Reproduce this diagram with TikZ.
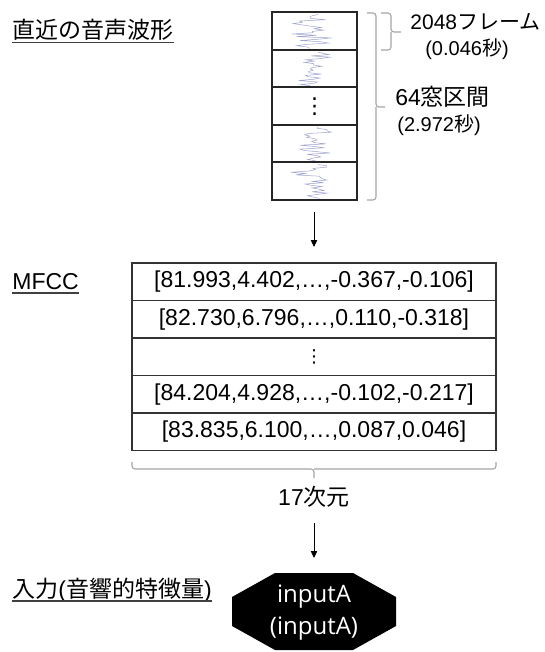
\documentclass[tikz,border=0pt]{standalone}
\usepackage{fontspec}
\setmainfont{Liberation Sans}
\newfontfamily\jp{Noto Sans CJK JP}
\newfontfamily\symf{DejaVu Sans}
\newfontfamily\octf{Open Sans}
\usetikzlibrary{arrows.meta}
\definecolor{bracegray}{RGB}{165,165,165}
\definecolor{wavecol}{RGB}{60,70,160}
\begin{document}
\begin{tikzpicture}[x=0.5pt,y=-0.5pt,
  lbl/.style={inner sep=0pt, font=\fontsize{11.5}{13}\selectfont},
  smalllbl/.style={inner sep=0pt, font=\fontsize{10}{12}\selectfont},
  wcell/.style={draw=black!85, line width=1pt, minimum width=42.5pt, minimum height=18.75pt, inner sep=0pt},
  mrow/.style={draw=black!80, line width=0.75pt, minimum width=182pt, minimum height=18.75pt, inner sep=0pt, font=\fontsize{11.5}{13}\selectfont},
  brc/.style={draw=bracegray, line width=0.55pt, rounded corners=1.5pt},
  arr/.style={draw=black, line width=0.5pt, -{Triangle[length=3.5pt,width=3.2pt]}},
  wave/.style={draw=wavecol, line width=0.25pt, opacity=0.5},
  uline/.style={draw=black!75, line width=0.6pt}
]
\useasboundingbox (0,0) rectangle (545,652);

% --- title
\node[lbl, anchor=base west] (title) at (12,38.5) {\jp 直近の音声波形};
\draw[uline] ([yshift=-2pt]title.base west) -- ([yshift=-2pt]title.base east);

% --- waveform cells
\node[wcell] (w1) at (314.5,31.25) {};
\node[wcell] (w2) at (314.5,68.75) {};
\node[wcell] (w3) at (314.5,106.25) {\symf\fontsize{11}{12}\selectfont ⋮};
\node[wcell] (w4) at (314.5,143.75) {};
\node[wcell] (w5) at (314.5,181.25) {};

\pgfmathsetseed{5}
\foreach \yt in {12.5,50,125,162.5}{
  \draw[wave] (318,\yt+2) \foreach \k in {1,...,26}{ -- ({314+4*sin(\k*40)+(4+20*rnd)*rand},{\yt+2+\k*1.3}) };
}

% --- braces on the right
\draw[brc] (381,13) -- (391,13) -- (391,32) -- (401,32);
\draw[brc] (381,50) -- (391,50) -- (391,32);
\draw[brc] (367,13) -- (376,13) -- (376,107) -- (385,107);
\draw[brc] (367,200) -- (376,200) -- (376,107);

\node[inner sep=0pt, anchor=west, font=\fontsize{10.5}{12}\selectfont] (frm) at (410,22) {2048{\jp フレーム}};
\node[smalllbl] (frms) at (467,49) {(0.046{\jp 秒})};
\node[lbl, anchor=west] (win) at (395,97) {64{\jp 窓区間}};
\node[smalllbl, anchor=west] (wins) at (397,125) {(2.972{\jp 秒})};

% --- arrow 1
\coordinate (a1s) at (314,212);
\coordinate (a1e) at (314,247);
\draw[arr] (a1s) -- (a1e);

% --- MFCC
\node[lbl, anchor=base west] (mfcc) at (12,289) {MFCC};
\draw[uline] ([yshift=-2pt]mfcc.base west) -- ([yshift=-2pt]mfcc.base east);

\node[mrow] (r1) at (314,281.75) {[81.993,4.402,…,-0.367,-0.106]};
\node[mrow] (r2) at (314,319.25) {[82.730,6.796,…,0.110,-0.318]};
\node[mrow] (r3) at (314,356.75) {\symf\fontsize{9}{12}\selectfont ⋮};
\node[mrow] (r4) at (314,394.25) {[84.204,4.928,…,-0.102,-0.217]};
\node[mrow] (r5) at (314,431.75) {[83.835,6.100,…,0.087,0.046]};

% --- bottom brace
\draw[brc] (132,462) -- (132,469) -- (314,469) -- (314,478);
\draw[brc] (496,462) -- (496,469) -- (314,469);
\node[lbl] (dim) at (314,497) {17{\jp 次元}};

% --- arrow 2
\coordinate (a2s) at (314,523);
\coordinate (a2e) at (314,558);
\draw[arr] (a2s) -- (a2e);

% --- input
\node[lbl, anchor=base west] (inl) at (12,597) {{\jp 入力}({\jp 音響的特徴量})};
\draw[uline] ([yshift=-2pt]inl.base west) -- ([yshift=-2pt]inl.base east);

\fill[black] (275,573) -- (353,573) -- (396,597) -- (396,626) -- (353,650) -- (275,650) -- (232,626) -- (232,597) -- cycle;
\node[text=white, align=center, inner sep=0pt, font=\octf\fontsize{12}{16}\selectfont] (inp) at (314,613) {inputA\\(inputA)};
\end{tikzpicture}
\end{document}
